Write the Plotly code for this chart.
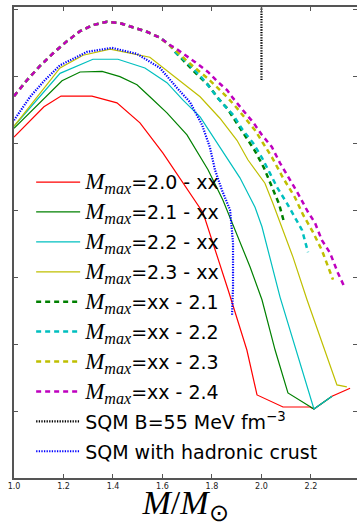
import plotly.graph_objects as go

# ---- solid curves: M_max = value - xx ----
m20_x = [1.000, 1.121, 1.190, 1.315, 1.416, 1.509, 1.602, 1.764, 1.865, 1.941, 1.982, 2.087, 2.196, 2.212, 2.285, 2.358]
m20_y = [5.09, 5.54, 5.70, 5.70, 5.60, 5.30, 4.85, 3.96, 2.81, 1.91, 1.24, 1.06, 1.06, 1.03, 1.22, 1.34]

m21_x = [1.000, 1.194, 1.267, 1.356, 1.428, 1.497, 1.549, 1.618, 1.699, 1.784, 1.844, 1.913, 1.954, 2.002, 2.055, 2.107, 2.196, 2.212, 2.285]
m21_y = [5.22, 5.93, 6.06, 6.07, 5.99, 5.87, 5.69, 5.45, 5.12, 4.60, 4.15, 3.52, 3.15, 2.66, 1.91, 1.27, 1.06, 1.03, 1.22]

m22_x = [1.000, 1.186, 1.319, 1.420, 1.529, 1.618, 1.683, 1.752, 1.913, 1.974, 2.002, 2.034, 2.075, 2.212, 2.285]
m22_y = [5.25, 6.04, 6.25, 6.25, 6.12, 5.90, 5.64, 5.39, 4.48, 4.04, 3.75, 3.30, 2.70, 1.03, 1.22]

m23_x = [1.000, 1.186, 1.279, 1.388, 1.549, 1.630, 1.699, 1.752, 1.832, 1.901, 1.945, 2.014, 2.046, 2.087, 2.127, 2.184, 2.305, 2.345]
m23_y = [5.25, 6.12, 6.31, 6.40, 6.28, 6.04, 5.84, 5.69, 5.37, 5.04, 4.75, 4.40, 4.10, 3.70, 3.30, 2.66, 1.39, 1.36]

# ---- dashed curves: M_max = xx - value ----
low_x = [1.000, 1.053, 1.105, 1.158, 1.214, 1.267, 1.319, 1.376, 1.428, 1.481, 1.537, 1.590, 1.630]
low_y = [5.70, 5.94, 6.15, 6.34, 6.52, 6.67, 6.76, 6.81, 6.79, 6.73, 6.66, 6.57, 6.46]

x21_x = low_x + [1.651, 1.703, 1.743, 1.784, 1.824, 1.861, 1.893, 1.933, 1.974, 2.010, 2.042, 2.071, 2.091]
x21_y = low_y + [6.36, 6.16, 6.01, 5.87, 5.67, 5.52, 5.34, 5.12, 4.88, 4.63, 4.36, 4.09, 3.82]

x22_x = low_x + [1.651, 1.703, 1.760, 1.800, 1.840, 1.885, 1.925, 1.966, 2.002, 2.034, 2.063, 2.103, 2.143, 2.164, 2.188]
x22_y = low_y + [6.36, 6.19, 5.97, 5.79, 5.60, 5.42, 5.19, 5.00, 4.78, 4.55, 4.34, 4.10, 3.85, 3.70, 3.37]

x23_x = low_x + [1.651, 1.703, 1.743, 1.784, 1.824, 1.865, 1.901, 1.941, 1.974, 2.006, 2.042, 2.087, 2.135, 2.168, 2.208, 2.244, 2.269, 2.289]
x23_y = low_y + [6.39, 6.21, 6.09, 5.96, 5.82, 5.67, 5.52, 5.34, 5.19, 5.00, 4.79, 4.48, 4.19, 3.93, 3.67, 3.40, 3.15, 2.96]

x24_x = low_x + [1.651, 1.683, 1.731, 1.784, 1.824, 1.861, 1.885, 1.925, 1.966, 2.002, 2.042, 2.075, 2.123, 2.147, 2.188, 2.216, 2.244, 2.277, 2.309, 2.333]
x24_y = low_y + [6.42, 6.34, 6.21, 6.06, 5.91, 5.79, 5.67, 5.49, 5.31, 5.12, 4.94, 4.70, 4.40, 4.25, 3.97, 3.81, 3.55, 3.36, 3.06, 2.87]

# ---- strange quark matter ----
sqm_x = [2.0, 2.0]
sqm_y = [5.94, 7.03]

crust_x = [1.000, 1.065, 1.125, 1.186, 1.295, 1.396, 1.497, 1.590, 1.659, 1.711, 1.760, 1.792, 1.812, 1.840, 1.873, 1.885, 1.885, 1.881]
crust_y = [5.34, 5.69, 5.94, 6.16, 6.36, 6.42, 6.33, 6.12, 5.82, 5.61, 5.27, 4.93, 4.60, 4.30, 4.00, 3.51, 2.85, 2.43]

x_ticks = [1.0, 1.2, 1.4, 1.6, 1.8, 2.0, 2.2]
x_tick_text = ["1.0", "1.2", "1.4", "1.6", "1.8", "2.0", "2.2"]
y_ticks = [0, 1, 2, 3, 4, 5, 6, 7]

MM = ("<span style=\"font-family:'Liberation Serif';font-size:23px\"><i>M</i>"
      "<sub><i>max</i></sub></span>")

series = [
    (m20_x, m20_y, MM + "=2.0 - xx", "#ff0000", 1.2, "solid"),
    (m21_x, m21_y, MM + "=2.1 - xx", "#008000", 1.2, "solid"),
    (m22_x, m22_y, MM + "=2.2 - xx", "#00bfbf", 1.2, "solid"),
    (m23_x, m23_y, MM + "=2.3 - xx", "#bfbf00", 1.2, "solid"),
    (x21_x, x21_y, MM + "=xx - 2.1", "#008000", 2.5, "5px,4px"),
    (x22_x, x22_y, MM + "=xx - 2.2", "#00bfbf", 2.5, "5px,4px"),
    (x23_x, x23_y, MM + "=xx - 2.3", "#bfbf00", 2.5, "5px,4px"),
    (x24_x, x24_y, MM + "=xx - 2.4", "#bf00bf", 2.5, "5px,4px"),
    (sqm_x, sqm_y, "SQM B=55 MeV fm<sup>\u22123</sup>", "#000000", 2.2, "1.3px,1.3px"),
    (crust_x, crust_y, "SQM with hadronic crust", "#0000ff", 2.2, "1.3px,1.3px"),
]

# one single-entry legend per series, stacked as a column inside the axes
LEG_TOP = 0.628      # paper y of first entry centre
LEG_STEP = 0.0635    # paper distance between entries
legend_style = dict(
    x=0.05, xanchor="left", yanchor="middle",
    bgcolor="rgba(0,0,0,0)", borderwidth=0,
    font=dict(family="DejaVu Sans", size=19, color="#000000"),
    itemwidth=44,
)

fig = go.Figure()
legends = {}
for i, (xs, ys, name, color, width, dash) in enumerate(series):
    key = "legend" if i == 0 else f"legend{i + 1}"
    fig.add_trace(go.Scatter(
        x=xs, y=ys, mode="lines", name=name, legend=key,
        line=dict(color=color, width=width, dash=dash),
    ))
    legends[key] = dict(legend_style, y=LEG_TOP - i * LEG_STEP)

# invisible trace carrying the right-hand tick marks
fig.add_trace(go.Scatter(x=[1.0], y=[0], yaxis="y2", mode="markers",
                         marker=dict(opacity=0), showlegend=False, hoverinfo="skip"))

axis_col = "#555555"
fig.update_layout(
    width=357, height=526,
    margin=dict(l=14, r=0, t=7, b=48, autoexpand=False),
    paper_bgcolor="white", plot_bgcolor="white",
    font=dict(family="DejaVu Sans", color="#000000"),
    showlegend=True,
    xaxis=dict(
        range=[1.0, 2.386], tickvals=x_ticks, ticktext=x_tick_text,
        ticks="inside", ticklen=4, tickcolor=axis_col, tickwidth=1,
        showline=True, linecolor=axis_col, linewidth=1.5, mirror="ticks",
        showgrid=False, zeroline=False, automargin=False,
        tickfont=dict(family="DejaVu Sans", size=8, color="#222222"),
        title=dict(text="<i>M</i>/<i>M</i><sub>\u2299</sub>", standoff=19,
                   font=dict(family="Liberation Serif", size=34, color="#000000")),
    ),
    yaxis=dict(
        range=[0, 7.03], tickvals=y_ticks, showticklabels=False,
        ticks="inside", ticklen=4, tickcolor=axis_col, tickwidth=1,
        showline=True, linecolor=axis_col, linewidth=1.5,
        showgrid=False, zeroline=False, automargin=False,
    ),
    yaxis2=dict(
        overlaying="y", side="right", range=[0, 7.03], tickvals=y_ticks,
        showticklabels=False, ticks="inside", ticklen=4, tickcolor=axis_col,
        tickwidth=1, showline=False, showgrid=False, zeroline=False,
        automargin=False,
    ),
    **legends,
)

fig.write_html("out.html")
